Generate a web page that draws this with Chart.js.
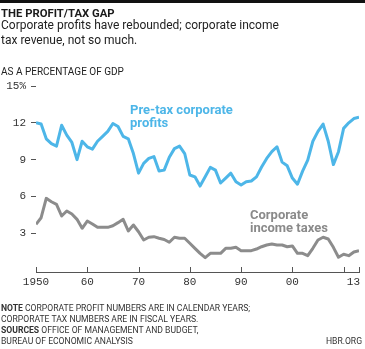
<!DOCTYPE html>
<html>
<head>
<meta charset="utf-8">
<script src="https://cdn.jsdelivr.net/npm/chart.js@4/dist/chart.umd.min.js"></script>
<style>
  html, body { margin: 0; padding: 0; background: #fff; }
  #wrap { position: relative; width: 365px; height: 349px; overflow: hidden; font-family: Roboto, "Liberation Sans", sans-serif; color: #222; }
  #c { position: absolute; left: 0; top: 0; }
  .t { position: absolute; white-space: nowrap; pointer-events: none; }
  #bar { position: absolute; left: 0; top: 0; width: 365px; height: 3px; background: #111; }
  #title { left: 1px; top: 8px; font-size: 11.3px; line-height: 11px; font-weight: 700; color: #1a1a1a; }
  #sub { left: 1px; top: 18.4px; font-size: 12px; line-height: 14.5px; color: #222; }
  #unit { left: 1px; top: 66.6px; font-size: 10px; line-height: 10px; color: #222; }
  #lblA { left: 130px; top: 102.5px; font-size: 13px; line-height: 13px; font-weight: 700; color: #4db6e8; }
  #lblB { left: 250px; top: 208px; font-size: 13px; line-height: 13px; font-weight: 700; color: #8a8a8a; }
  #foot { left: 1px; top: 303.4px; font-size: 8.6px; line-height: 10.8px; color: #333; }
  #hbr { right: 3px; top: 335.8px; font-size: 8.6px; line-height: 10.8px; color: #333; }
</style>
</head>
<body>
<div id="wrap">
  <canvas id="c" width="365" height="349"></canvas>
  <div id="bar"></div>
  <div class="t" id="title">THE PROFIT/TAX GAP</div>
  <div class="t" id="sub">Corporate profits have rebounded; corporate income<br>tax revenue, not so much.</div>
  <div class="t" id="unit">AS A PERCENTAGE OF GDP</div>
  <div class="t" id="lblA">Pre-tax corporate<br>profits</div>
  <div class="t" id="lblB">Corporate<br>income taxes</div>
  <div class="t" id="foot"><b>NOTE</b> CORPORATE PROFIT NUMBERS ARE IN CALENDAR YEARS;<br>CORPORATE TAX NUMBERS ARE IN FISCAL YEARS.<br><b>SOURCES</b> OFFICE OF MANAGEMENT AND BUDGET,<br>BUREAU OF ECONOMIC ANALYSIS</div>
  <div class="t" id="hbr">HBR.ORG</div>
</div>
<script>
const years = [1950,1951,1952,1953,1954,1955,1956,1957,1958,1959,
  1960,1961,1962,1963,1964,1965,1966,1967,1968,1969,
  1970,1971,1972,1973,1974,1975,1976,1977,1978,1979,
  1980,1981,1982,1983,1984,1985,1986,1987,1988,1989,
  1990,1991,1992,1993,1994,1995,1996,1997,1998,1999,
  2000,2001,2002,2003,2004,2005,2006,2007,2008,2009,
  2010,2011,2012,2013];

const profits = [12.0, 11.9, 10.7, 10.3, 10.1, 11.8, 11.0, 10.4, 9.0, 10.5,
  10.05, 9.86, 10.5, 10.9, 11.3, 11.95, 11.7, 10.9, 10.7, 9.5,
  7.9, 8.7, 9.1, 9.25, 8.07, 8.15, 9.2, 9.9, 10.1, 9.5,
  7.75, 7.6, 6.85, 7.6, 8.37, 8.15, 7.1, 7.5, 7.9, 7.2,
  6.93, 7.2, 7.26, 7.6, 8.4, 9.1, 9.65, 10.05, 8.8, 8.5,
  7.5, 7.0, 8.07, 8.97, 10.5, 11.3, 11.9, 10.5, 8.6, 9.65,
  11.55, 12.0, 12.35, 12.45];

const taxes = [3.73, 4.27, 5.85, 5.57, 5.36, 4.41, 4.82, 4.57, 4.14, 3.41,
  4.0, 3.76, 3.49, 3.49, 3.49, 3.62, 3.87, 4.14, 3.19, 3.68,
  3.13, 2.46, 2.68, 2.73, 2.6, 2.5, 2.27, 2.68, 2.6, 2.6,
  2.19, 1.78, 1.37, 1.02, 1.37, 1.37, 1.37, 1.78, 1.78, 1.86,
  1.59, 1.59, 1.59, 1.72, 1.91, 2.05, 2.13, 2.05, 2.05, 1.91,
  1.97, 1.37, 1.37, 1.18, 1.78, 2.46, 2.68, 2.54, 1.86, 1.05,
  1.29, 1.18, 1.48, 1.59];

const yTicks = [3, 6, 9, 12, 15];
const xTicks = [1950, 1960, 1970, 1980, 1990, 2000, 2010, 2013];
const xTickLabels = ['1950', '60', '70', '80', '90', '00', '', '13'];

const BLUE = '#4db6e8';
const GRAY = '#8c8c8c';
const AXIS = '#555';
const TICKFONT = '11px "Liberation Mono", "DejaVu Sans Mono", monospace';

const xAxisPlugin = {
  id: 'xAxisMarks',
  afterDraw(chart) {
    const ctx = chart.ctx;
    const xs = chart.scales.x;
    const bottom = chart.chartArea.bottom;
    ctx.save();
    ctx.strokeStyle = AXIS;
    ctx.lineWidth = 1;
    xTicks.forEach((v) => {
      const px = Math.round(xs.getPixelForValue(v)) + 0.5;
      ctx.beginPath();
      ctx.moveTo(px, bottom - 5);
      ctx.lineTo(px, bottom);
      ctx.stroke();
    });
    ctx.font = TICKFONT;
    ctx.fillStyle = '#333';
    ctx.textBaseline = 'alphabetic';
    xTicks.forEach((v, i) => {
      const px = xs.getPixelForValue(v);
      const last = i === xTicks.length - 1;
      ctx.textAlign = last ? 'right' : 'center';
      ctx.fillText(xTickLabels[i], last ? px + 1 : px, bottom + 12.5);
    });
    ctx.restore();
  }
};

new Chart(document.getElementById('c'), {
  type: 'line',
  data: {
    datasets: [
      {
        label: 'Pre-tax corporate profits',
        data: years.map((y, i) => ({ x: y, y: profits[i] })),
        borderColor: BLUE,
        borderWidth: 3,
        pointRadius: 0,
        tension: 0,
        borderJoinStyle: 'round',
        fill: false
      },
      {
        label: 'Corporate income taxes',
        data: years.map((y, i) => ({ x: y, y: taxes[i] })),
        borderColor: GRAY,
        borderWidth: 3,
        pointRadius: 0,
        tension: 0,
        borderJoinStyle: 'round',
        fill: false
      }
    ]
  },
  options: {
    responsive: false,
    animation: false,
    events: [],
    layout: { padding: { top: 86, right: 6, left: 0, bottom: 0 } },
    plugins: { legend: { display: false }, tooltip: { enabled: false }, title: { display: false } },
    scales: {
      x: {
        type: 'linear',
        min: 1950,
        max: 2013,
        ticks: { display: false },
        grid: { display: false },
        border: { display: true, color: AXIS, width: 1 },
        afterFit(s) { s.height = 77; }
      },
      y: {
        type: 'linear',
        min: -0.15,
        max: 15,
        afterBuildTicks(s) { s.ticks = yTicks.map(v => ({ value: v })); },
        afterFit(s) { s.width = 36; },
        ticks: {
          padding: 5,
          color: '#333',
          font: { family: '"Liberation Mono", "DejaVu Sans Mono", monospace', size: 11 },
          callback: (v) => (v === 15 ? '15%' : String(v))
        },
        grid: { display: true, drawOnChartArea: false, drawTicks: true, tickLength: 5, color: AXIS, lineWidth: 1 },
        border: { display: false }
      }
    }
  },
  plugins: [xAxisPlugin]
});
</script>
</body>
</html>
